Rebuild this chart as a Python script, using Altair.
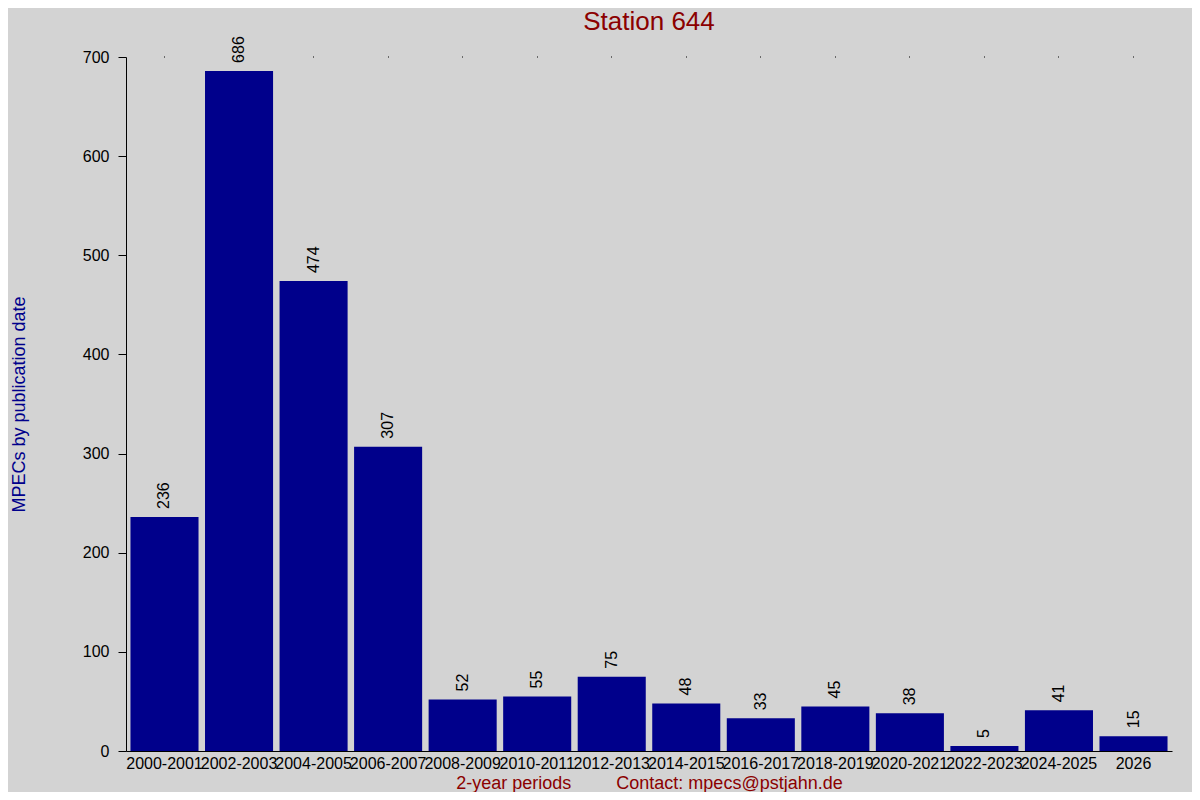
import altair as alt
import pandas as pd

periods = ["2000-2001", "2002-2003", "2004-2005", "2006-2007", "2008-2009",
           "2010-2011", "2012-2013", "2014-2015", "2016-2017", "2018-2019",
           "2020-2021", "2022-2023", "2024-2025", "2026"]
counts = [236, 686, 474, 307, 52, 55, 75, 48, 33, 45, 38, 5, 41, 15]
y_ticks = [0, 100, 200, 300, 400, 500, 600, 700]

df = pd.DataFrame({"period": periods, "count": counts})

FONT = "Liberation Sans"
NB = "\u00a0"
x_title = "2-year periods" + NB * 9 + "Contact: mpecs@pstjahn.de"

xscale = alt.Scale(paddingInner=0.087, paddingOuter=0.06)
yscale = alt.Scale(domain=[0, 700], nice=False)

bars = alt.Chart(df).mark_bar(color="#00008B").encode(
    x=alt.X("period:N", sort=periods, scale=xscale,
            axis=alt.Axis(orient="bottom", title=x_title, labelAngle=0,
                          labelOverlap=False, labelLimit=300, ticks=False,
                          labelPadding=4, labelFontSize=16, labelFont=FONT,
                          labelColor="black", domainColor="black",
                          titleFont=FONT, titleFontSize=18, titleFontWeight="normal",
                          titleColor="#8B0000", titleY=37, titleBaseline="alphabetic")),
    y=alt.Y("count:Q", scale=yscale,
            axis=alt.Axis(values=y_ticks, title="MPECs by publication date",
                          grid=False, tickSize=8, tickColor="black",
                          domainColor="black", labelPadding=9,
                          labelFontSize=16, labelFont=FONT, labelColor="black",
                          titleFont=FONT, titleFontSize=18, titleFontWeight="normal",
                          titleColor="#00008B", titleX=-107, titleBaseline="middle",
                          titleAngle=270)),
)

labels = alt.Chart(df).mark_text(angle=270, align="left", baseline="middle", dx=8,
                                 fontSize=16, font=FONT, color="black").encode(
    x=alt.X("period:N", sort=periods, scale=xscale,
            axis=alt.Axis(orient="top", title=None, labels=False, domain=False,
                          ticks=True, tickSize=1, tickColor="black")),
    y=alt.Y("count:Q", scale=yscale, axis=None),
    text=alt.Text("count:Q"),
)

chart = alt.layer(bars, labels).resolve_axis(x="independent", y="independent").properties(
    width=1046,
    height=694,
    autosize=alt.AutoSizeParams(type="none"),
    padding={"left": 118, "top": 49, "right": 20, "bottom": 41},
    title=alt.Title("Station 644", font=FONT, fontSize=26, fontWeight="normal",
                    color="#8B0000", anchor="middle", frame="group", offset=1),
    background="#d3d3d3",
).configure_view(stroke=None)

chart.save("out.html", embed_options={"renderer": "svg", "actions": False})
